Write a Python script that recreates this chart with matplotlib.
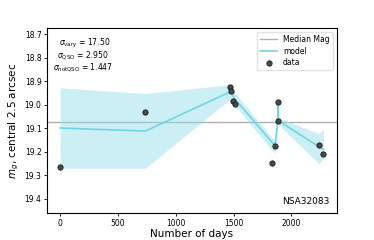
import matplotlib
matplotlib.use("Agg")
import matplotlib.pyplot as plt
import numpy as np

# data
days = [0, 737, 1472, 1481, 1498, 1510, 1832, 1858, 1881, 1884, 2236, 2276]
mags = [19.265, 19.030, 18.925, 18.941, 18.983, 18.996, 19.248, 19.177, 19.070, 18.989, 19.171, 19.208]
errs = [0.018, 0.012, 0.010, 0.010, 0.010, 0.010, 0.015, 0.012, 0.010, 0.012, 0.012, 0.012]

# model
model_days = [0, 737, 1472, 1481, 1498, 1510, 1832, 1858, 1881, 1884, 1888, 2236, 2276]
model_mag = [19.099, 19.112, 18.945, 18.950, 18.965, 18.975, 19.160, 19.174, 19.070, 18.995, 19.068, 19.178, 19.190]
model_lo = [18.928, 18.953, 18.915, 18.925, 18.945, 18.950, 19.140, 19.152, 19.055, 18.985, 19.055, 19.123, 19.103]
model_hi = [19.270, 19.270, 18.975, 18.975, 18.990, 19.000, 19.195, 19.205, 19.085, 19.005, 19.085, 19.250, 19.230]

median_mag = 19.072
sig_vary, sig_qso, sig_notqso = "17.50", "2.950", "1.447"
name = "NSA32083"

fig = plt.figure(figsize=(3.74, 2.40), dpi=100)
ax = fig.add_axes([0.126, 0.1125, 0.774, 0.771])

ax.axhline(median_mag, color="#b0b0b0", lw=1.0, label="Median Mag", zorder=1)
ax.fill_between(model_days, model_lo, model_hi, color="#8fdcea", alpha=0.45, lw=0, zorder=2)
ax.plot(model_days, model_mag, color="#6fd6e8", lw=1.2, label="model", zorder=3)
ax.errorbar(days, mags, yerr=errs, fmt="o", ms=3.8, mfc="#4a4a4a", mec="#1a1a1a", mew=0.6,
            ecolor="#c8c8c8", elinewidth=0.8, capsize=0, label="data", zorder=4)

ax.set_xlim(-112, 2390)
ax.set_ylim(19.46, 18.674)
ax.set_xticks([0, 500, 1000, 1500, 2000])
ax.set_yticks([18.7, 18.8, 18.9, 19.0, 19.1, 19.2, 19.3, 19.4])
ax.tick_params(labelsize=5.5, length=2.5, width=0.6, pad=1.5)
for s in ax.spines.values():
    s.set_linewidth(0.8)

ax.set_xlabel("Number of days", fontsize=7.5, labelpad=1)
ax.set_ylabel("$m_g$, central 2.5 arcsec", fontsize=7.5, labelpad=3)

ax.text(0.04, 0.95, r"$\sigma_{\rm vary}$ = " + sig_vary, transform=ax.transAxes, fontsize=5.5, va="top")
ax.text(0.035, 0.885, r"$\sigma_{\rm QSO}$ = " + sig_qso, transform=ax.transAxes, fontsize=5.5, va="top")
ax.text(0.02, 0.82, r"$\sigma_{\rm notQSO}$ = " + sig_notqso, transform=ax.transAxes, fontsize=5.5, va="top")
ax.text(0.975, 0.04, name, transform=ax.transAxes, fontsize=6.5, ha="right", va="bottom")

leg = ax.legend(loc="upper right", fontsize=5.5, frameon=True, handlelength=2.2, borderpad=0.4,
                labelspacing=0.35, fancybox=True, edgecolor="#dddddd")

fig.savefig("out.png", dpi=100)
